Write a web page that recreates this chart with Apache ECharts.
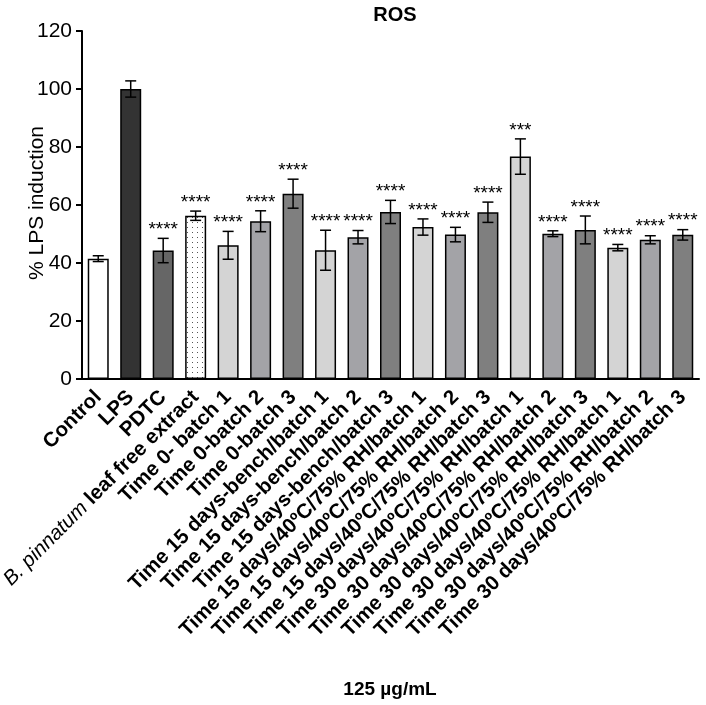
<!DOCTYPE html>
<html lang="en">
  <head>
    <meta charset="UTF-8" />
    <title>ROS</title>
    <script src="https://cdn.jsdelivr.net/npm/echarts@6/dist/echarts.min.js"></script>
    <style>
      html, body { margin: 0; padding: 0; background: #fff; }
    </style>
  </head>
  <body>
    <div id="main" style="width: 706px; height: 705px;"></div>
    <script type="text/javascript">
      // categories (x axis)
      var categories = [
        "Control",
        "LPS",
        "PDTC",
        "B. pinnatum leaf free extract",
        "Time 0- batch 1",
        "Time 0-batch 2",
        "Time 0-batch 3",
        "Time 15 days-bench/batch 1",
        "Time 15 days-bench/batch 2",
        "Time 15 days-bench/batch 3",
        "Time 15 days/40ºC/75% RH/batch 1",
        "Time 15 days/40ºC/75% RH/batch 2",
        "Time 15 days/40ºC/75% RH/batch 3",
        "Time 30 days/40ºC/75% RH/batch 1",
        "Time 30 days/40ºC/75% RH/batch 2",
        "Time 30 days/40ºC/75% RH/batch 3",
        "Time 30 days/40ºC/75% RH/batch 1",
        "Time 30 days/40ºC/75% RH/batch 2",
        "Time 30 days/40ºC/75% RH/batch 3"
      ];
      // mean % LPS induction
      var means = [41.5, 100, 44.3, 56.3, 46.1, 54.4, 63.9, 44.4, 48.9, 57.6,
                   52.4, 49.8, 57.5, 76.7, 50.1, 51.4, 45.3, 48.0, 49.7];
      // SD
      var errors = [1.0, 2.8, 4.2, 1.6, 4.8, 3.6, 5.0, 6.9, 2.3, 4.0,
                    2.8, 2.5, 3.5, 6.1, 1.0, 4.8, 1.1, 1.4, 1.8];
      // significance marks
      var stars = ["", "", "****", "****", "****", "****", "****", "****", "****", "****",
                   "****", "****", "****", "***", "****", "****", "****", "****", "****"];
      var yTicks = [0, 20, 40, 60, 80, 100, 120];

      // bar fills (style)
      var fills = ["#ffffff", "#333333", "#666666", "dots",
                   "#d4d4d4", "#a3a3a7", "#7f7f7f",
                   "#d4d4d4", "#a3a3a7", "#7f7f7f",
                   "#d4d4d4", "#a3a3a7", "#7f7f7f",
                   "#d4d4d4", "#a3a3a7", "#7f7f7f",
                   "#d4d4d4", "#a3a3a7", "#7f7f7f"];

      // dotted pattern for the extract bar
      var pc = document.createElement("canvas");
      pc.width = 5; pc.height = 5;
      var ctx = pc.getContext("2d");
      ctx.fillStyle = "#ffffff";
      ctx.fillRect(0, 0, 5, 5);
      ctx.fillStyle = "#555555";
      ctx.fillRect(2, 2, 1, 1);

      var FONT = "'Liberation Sans', Arial, sans-serif";

      var barData = means.map(function (v, i) {
        var f = fills[i];
        return {
          value: v,
          itemStyle: {
            color: f === "dots" ? { image: pc, repeat: "repeat" } : f
          }
        };
      });
      var errData = means.map(function (v, i) {
        return [i, v, errors[i], stars[i]];
      });

      var myChart = echarts.init(document.getElementById("main"));

      var option = {
        animation: false,
        backgroundColor: "#ffffff",
        title: {
          text: "ROS",
          left: 390,
          top: 0,
          textAlign: "center",
          textStyle: { fontFamily: FONT, fontSize: 20, fontWeight: "bold", color: "#000" }
        },
        grid: { left: 82, right: 7, top: 31, bottom: 326, containLabel: false, outerBoundsMode: "none" },
        xAxis: {
          type: "category",
          data: categories,
          boundaryGap: true,
          axisLine: { lineStyle: { color: "#000", width: 2 } },
          axisTick: { alignWithLabel: true, length: 7, lineStyle: { color: "#000", width: 2 } },
          axisLabel: {
            interval: 0,
            rotate: 45,
            margin: 15,
            color: "#000",
            fontFamily: FONT,
            fontSize: 20.5,
            fontWeight: "bold",
            formatter: function (val) {
              if (val.indexOf("B. pinnatum") === 0) {
                return "{it|B. pinnatum}" + val.substring(11);
              }
              return val;
            },
            rich: {
              it: { fontStyle: "italic", fontWeight: "normal", fontFamily: FONT, fontSize: 20.5, color: "#000" }
            }
          }
        },
        yAxis: {
          type: "value",
          min: yTicks[0],
          max: yTicks[yTicks.length - 1],
          interval: yTicks[1] - yTicks[0],
          splitLine: { show: false },
          axisLine: { show: true, lineStyle: { color: "#000", width: 2 } },
          axisTick: { show: true, length: 6, lineStyle: { color: "#000", width: 2 } },
          axisLabel: { margin: 10, color: "#000", fontFamily: FONT, fontSize: 21 }
        },
        graphic: [
          {
            type: "text",
            x: 37,
            y: 203,
            rotation: Math.PI / 2,
            style: {
              text: "% LPS induction",
              fontFamily: FONT,
              fontSize: 21,
              fill: "#000",
              align: "center",
              verticalAlign: "middle"
            }
          },
          {
            type: "text",
            x: 390,
            y: 690,
            style: {
              text: "125 µg/mL",
              fontFamily: FONT,
              fontSize: 19,
              fontWeight: "bold",
              fill: "#000",
              align: "center",
              verticalAlign: "middle"
            }
          }
        ],
        series: [
          {
            type: "bar",
            data: barData,
            barWidth: 21,
            itemStyle: { borderColor: "#000", borderWidth: 1.5 }
          },
          {
            type: "custom",
            data: errData,
            z: 5,
            renderItem: function (params, api) {
              var i = api.value(0), v = api.value(1), e = api.value(2);
              var top = api.coord([i, v + e]);
              var bot = api.coord([i, v - e]);
              var hw = 5.5;
              var st = { stroke: "#000", lineWidth: 1.5 };
              var kids = [
                { type: "line", shape: { x1: top[0], y1: top[1], x2: bot[0], y2: bot[1] }, style: st },
                { type: "line", shape: { x1: top[0] - hw, y1: top[1], x2: top[0] + hw, y2: top[1] }, style: st },
                { type: "line", shape: { x1: bot[0] - hw, y1: bot[1], x2: bot[0] + hw, y2: bot[1] }, style: st }
              ];
              var s = stars[params.dataIndex];
              if (s) {
                kids.push({
                  type: "text",
                  x: top[0],
                  y: top[1] + 1,
                  style: {
                    text: s,
                    fontFamily: FONT,
                    fontSize: 19,
                    fill: "#000",
                    align: "center",
                    verticalAlign: "bottom"
                  }
                });
              }
              return { type: "group", children: kids };
            }
          }
        ]
      };

      myChart.setOption(option);
    </script>
  </body>
</html>
